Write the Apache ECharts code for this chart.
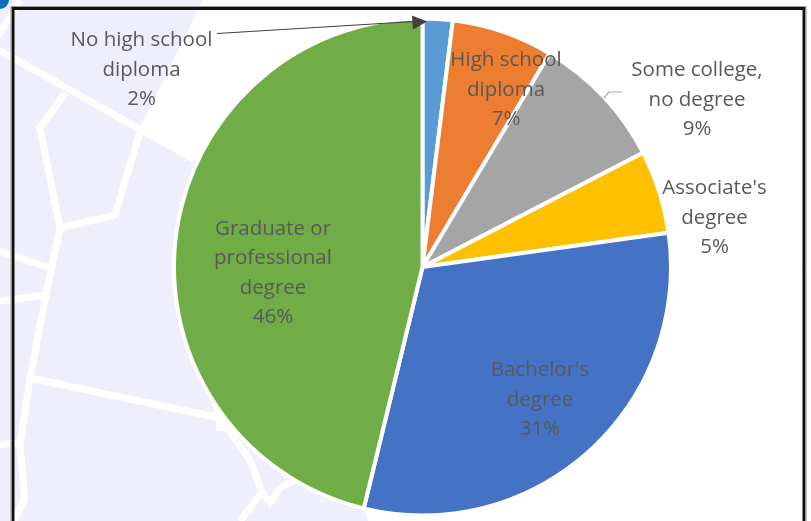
<!DOCTYPE html>
<html><head><meta charset="utf-8">
<style>html,body{margin:0;padding:0;background:#fff}#c{width:811px;height:521px}</style>
<script src="https://cdn.jsdelivr.net/npm/echarts@6/dist/echarts.min.js"></script></head>
<body><div id="c"></div>
<script>
const categories = ["No high school\ndiploma","High school\ndiploma","Some college,\nno degree","Associate's\ndegree","Bachelor's\ndegree","Graduate or\nprofessional\ndegree"];
const values = [1.95,6.6,8.85,5.4,31,46.2];
const shownPercent = ["2%","7%","9%","5%","31%","46%"];
const colors = ["#5B9BD5","#ED7D31","#A5A5A5","#FFC000","#4472C4","#70AD47"];
const labelCentres = [[141.5,70],[506,90],[697,100],[714.5,218],[540,400],[273,273]];

const lav = "#EFEEFC";
const roads = [
 [[-5,48],[195,160]],
 [[65,93],[40,128],[60,228],[115,215],[141,128]],
 [[60,228],[46,295],[30,378],[20,445],[24,490],[24,500],[14,521]],
 [[-5,250],[50,268]],
 [[-5,302],[46,295]],
 [[30,378],[220,418]],
 [[220,418],[250,460],[262,492],[270,503],[280,488],[298,478]],
 [[262,492],[240,521]],
 [[-5,445],[20,443]],
 [[20,0],[-2,36]]
];
const bg = [
 {type:'polygon',silent:true,z:0,shape:{points:[[0,0],[203,0],[140,128],[200,160],[175,260],[215,415],[365,512],[368,521],[0,521]]},style:{fill:lav}},
 {type:'rect',silent:true,z:0,shape:{x:216,y:415,width:14,height:16},style:{fill:'#fff'}},
 ...roads.map(p=>({type:'polyline',silent:true,z:1,shape:{points:p},style:{stroke:'#fff',fill:null,lineWidth:7,lineJoin:'miter'}})),
 {type:'circle',silent:true,z:2,shape:{cx:0,cy:0,r:9},style:{fill:'#0A6FC2'}},
 {type:'rect',silent:true,z:3,shape:{x:13,y:8.5,width:791,height:530},style:{fill:null,stroke:'#111',lineWidth:3}},
 {type:'rect',silent:true,z:3,shape:{x:11,y:6.5,width:795,height:534},style:{fill:null,stroke:'#999',lineWidth:1}}
];
const over = [
 {type:'line',silent:true,z:20,shape:{x1:217,y1:33.5,x2:414,y2:21.5},style:{stroke:'#404040',lineWidth:1.2}},
 {type:'polygon',silent:true,z:20,shape:{points:[[412,15.5],[427,21.5],[413,29.5]]},style:{fill:'#404040'}},
 {type:'polyline',silent:true,z:20,shape:{points:[[622,92],[609,92],[604,98]]},style:{stroke:'#A6A6A6',fill:null,lineWidth:1.2}}
];
const chart = echarts.init(document.getElementById('c'),null,{renderer:'canvas'});
chart.setOption({
 animation:false,
 graphic:{elements:[...bg,...over]},
 series:[{
  type:'pie',z:10,zlevel:0,
  center:[422.5,267],radius:[0,248.5],startAngle:90,clockwise:true,
  avoidLabelOverlap:false,
  silent:true,
  data:categories.map((n,i)=>({name:n,value:values[i],itemStyle:{color:colors[i]}})),
  itemStyle:{borderColor:'#fff',borderWidth:4},
  label:{show:true,position:'inside',align:'center',verticalAlign:'middle',
   formatter:p=>p.name+"\n"+shownPercent[p.dataIndex],
   fontFamily:'"Open Sans"',fontSize:20.5,lineHeight:29.5,color:'#595959'},
  labelLine:{show:false},
  labelLayout:p=>({x:labelCentres[p.dataIndex][0],y:labelCentres[p.dataIndex][1],align:'center',verticalAlign:'middle'})
 }]
});
</script></body></html>
